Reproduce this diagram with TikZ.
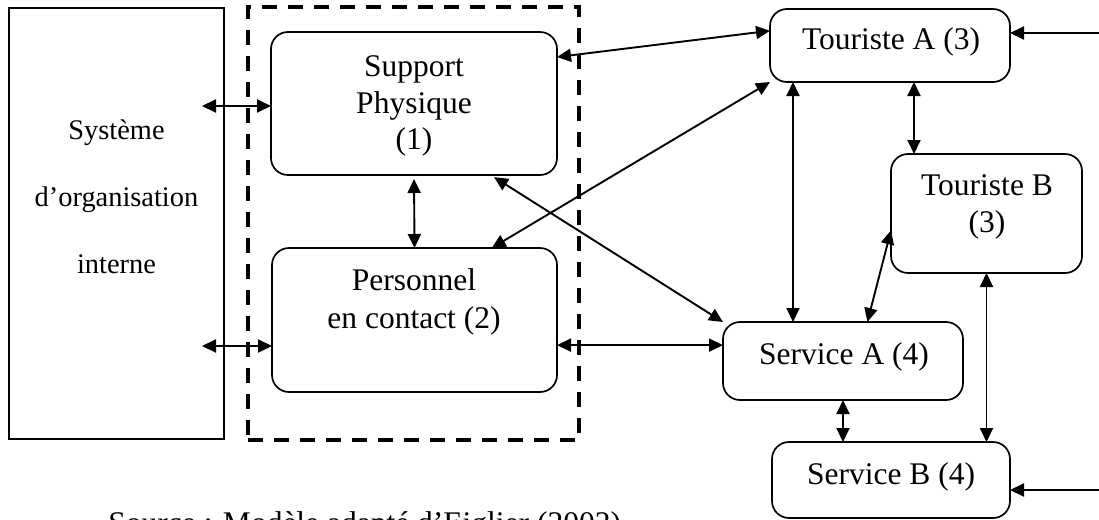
\documentclass[tikz,border=0pt]{standalone}
\usepackage{fontspec}
\setmainfont{Liberation Serif}
\usetikzlibrary{arrows.meta}

\begin{document}
\begin{tikzpicture}[x=0.5pt,y=-0.5pt,
  box/.style={draw,line width=0.85pt,rounded corners=8.5pt,inner sep=0pt,outer sep=0pt},
  txt/.style={align=center,inner sep=0pt,font=\fontsize{15.75}{18.8}\selectfont},
  link/.style={line width=0.95pt,{Triangle[length=7pt,width=6.5pt]}-{Triangle[length=7pt,width=6.5pt]}},
  feed/.style={line width=0.95pt,-{Triangle[length=7pt,width=6.5pt]}}]
  \useasboundingbox (0,0) rectangle (1099,520);

  %internal organisation
  \node[box,rounded corners=0pt,name=org,minimum width=107.5pt,minimum height=215.5pt,at={(116.5,223.5)}]{};
  \node[txt,name=org-txt,font=\fontsize{14.2}{33.5}\selectfont,at={(116.5,197)}]{Système\\d’organisation\\interne};

  %dashed frame
  \node[draw,dash pattern=on 7.5pt off 5.5pt,line width=1.6pt,inner sep=0pt,name=frame,minimum width=165.5pt,minimum height=216.5pt,at={(413.5,223.5)}]{};

  %support and staff
  \node[box,name=sup,minimum width=143pt,minimum height=71.5pt,at={(414,103.5)}]{};
  \node[txt,name=sup-txt,font=\fontsize{15.75}{18.4}\selectfont,at={(414,106)}]{Support\\Physique\\(1)};
  \node[box,name=pers,minimum width=142.5pt,minimum height=72pt,at={(414.5,320)}]{};
  \node[txt,name=pers-txt,at={(414,302)}]{Personnel\\en contact (2)};

  %tourists
  \node[box,name=tA,minimum width=120pt,minimum height=36.5pt,at={(890,45.5)}]{};
  \node[txt,name=tA-txt,at={(891,42)}]{Touriste A (3)};
  \node[box,name=tB,minimum width=95.5pt,minimum height=59.5pt,at={(986.5,213.5)}]{};
  \node[txt,name=tB-txt,at={(987,207)}]{Touriste B\\(3)};

  %services
  \node[box,name=sA,minimum width=120pt,minimum height=39pt,at={(843,361)}]{};
  \node[txt,name=sA-txt,at={(844,357)}]{Service A (4)};
  \node[box,name=sB,minimum width=119pt,minimum height=38pt,at={(891,480)}]{};
  \node[txt,name=sB-txt,at={(891,477)}]{Service B (4)};

  %source
  \node[txt,name=src,anchor=base west,at={(108,533)}]{Source : Modèle adapté d’Eiglier (2002)};

  %free ends
  \coordinate (org1) at (202,106);
  \coordinate (org2) at (202,346);
  \coordinate (inA) at (1099,33);
  \coordinate (inB) at (1099,490);

  %arrows
  \draw[link] (org1) -- (org1 -| sup.west);
  \draw[link] (org2) -- (org2 -| pers.west);
  \draw[link,shorten <=2pt] (sup.south) -- (pers.north);
  \draw[link,shorten <=2pt] (sup.-43) -- (sA.north west);
  \draw[link] (pers.43.6) -- (tA.south west);
  \draw[link] (sup.18.7) -- (tA.173.6);
  \draw[link] (pers.-10) -- (pers.-10 -| sA.west);
  \draw[link] ([xshift=-48.5pt]tA.south) -- ([xshift=-48.5pt]tA.south |- sA.north);
  \draw[link] ([xshift=12pt]tA.south) -- ([xshift=12pt]tA.south |- tB.north);
  \draw[link] (tB.190) -- (sA.58.4);
  \draw[link] (tB.south) -- (tB.south |- sB.north);
  \draw[link] (sA.south) -- (sA.south |- sB.north);
  \draw[feed] (inA) -- (inA -| tA.east);
  \draw[feed] (inB) -- (inB -| sB.east);
\end{tikzpicture}
\end{document}
